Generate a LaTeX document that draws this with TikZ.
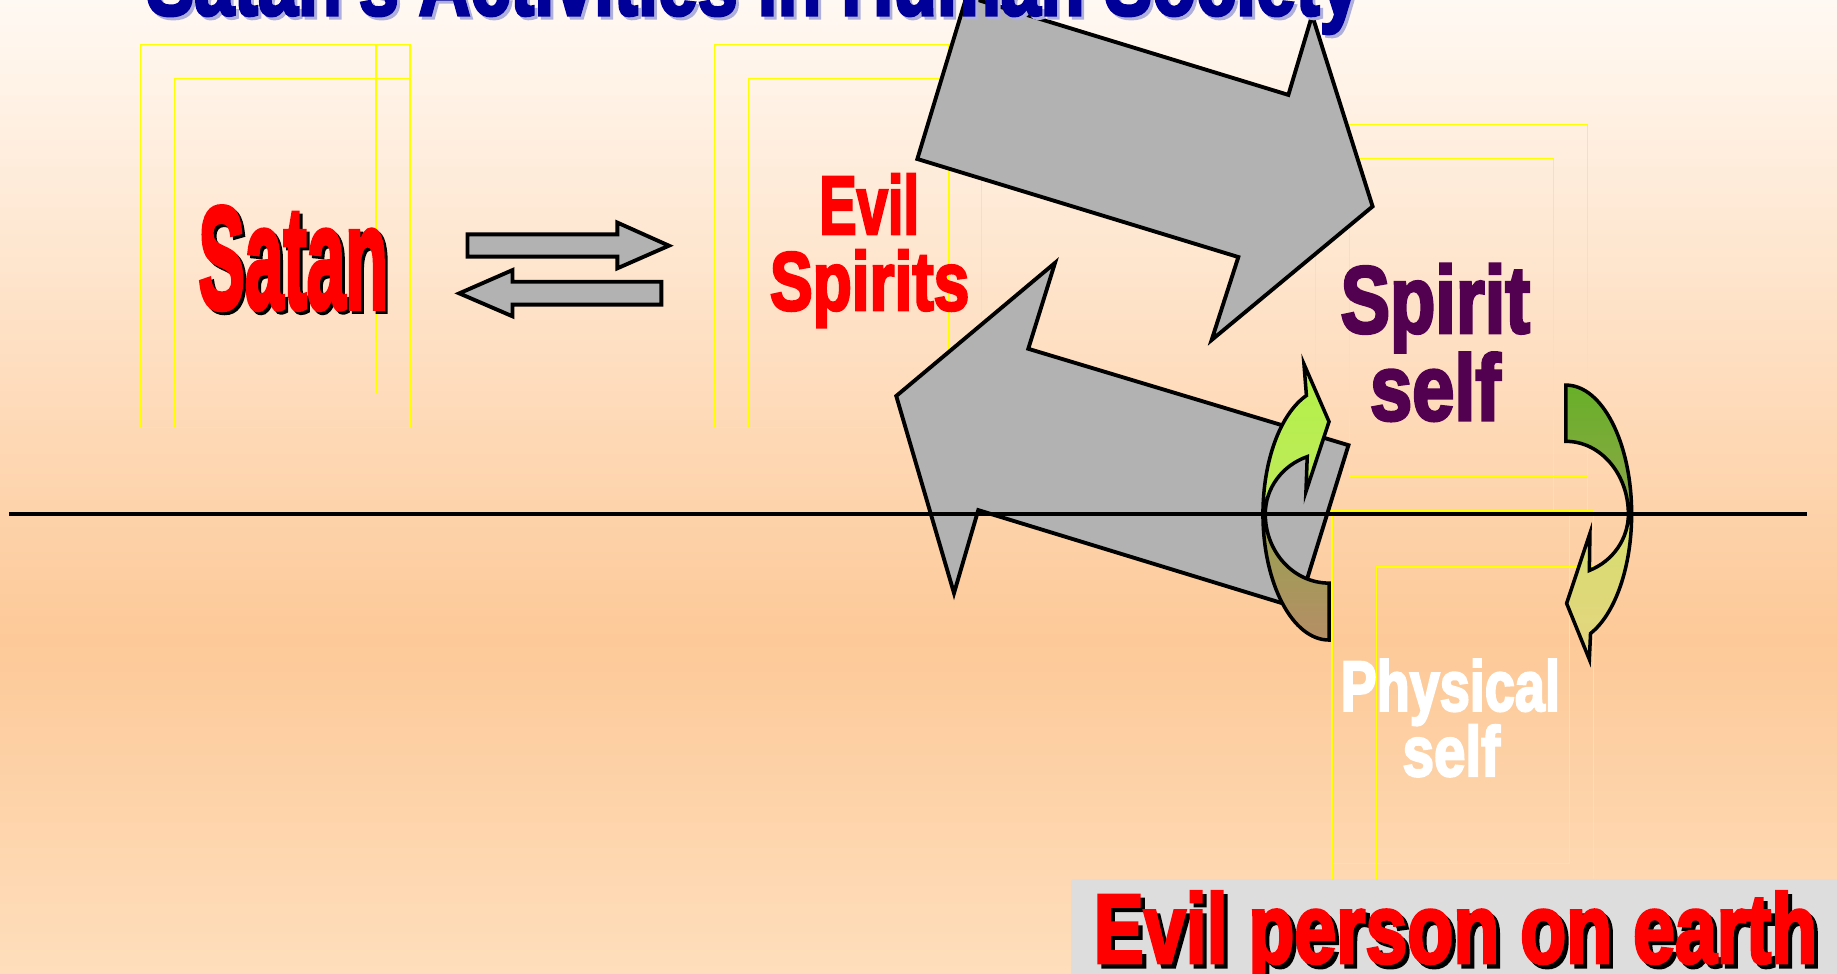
\documentclass[tikz,border=0pt]{standalone}
\usepackage{fontspec}
\usepackage{graphicx}
\newfontfamily\impactfont{Liberation Sans}[FakeBold=3.5]
\newcommand{\fitt}[3]{\resizebox{#1}{#2}{\impactfont\bfseries #3}}
\definecolor{bgtop}{RGB}{255,249,243}
\definecolor{bgmid}{RGB}{253,201,152}
\definecolor{bgbot}{RGB}{254,222,188}
\definecolor{arrowgray}{RGB}{178,178,178}
\definecolor{boxgray}{RGB}{221,221,221}
\definecolor{titleblue}{RGB}{0,0,153}
\definecolor{titleshadow}{RGB}{175,175,220}
\definecolor{spiritpurple}{RGB}{82,0,80}
\definecolor{ylw}{RGB}{255,255,0}
\definecolor{limetop}{RGB}{178,242,72}
\definecolor{limebot}{RGB}{192,232,92}
\definecolor{olivetop}{RGB}{150,162,80}
\definecolor{olivebot}{RGB}{182,142,102}
\definecolor{greentop}{RGB}{104,176,40}
\definecolor{greenbot}{RGB}{142,166,74}
\definecolor{ygtop}{RGB}{212,222,108}
\definecolor{ygbot}{RGB}{230,212,130}
\begin{document}
\begin{tikzpicture}[x=1pt,y=-1pt,
  ylines/.style={draw=ylw, line width=1pt},
  grayarrow/.style={draw=black, fill=arrowgray, line width=3.3pt, line join=miter},
  curvedarrow/.style={draw=black, line width=3pt, line join=miter},
  lbl/.style={anchor=base west, inner sep=0pt, outer sep=0pt}]
\useasboundingbox (0,0) rectangle (1568,831);
% background
\shade[top color=bgtop, bottom color=bgmid] (0,0) rectangle (1568,546);
\shade[top color=bgmid, bottom color=bgbot] (0,545) rectangle (1568,831);
% yellow frames
\draw[ylines] (120,38) rectangle (350,365);
\draw[ylines] (120,38) rectangle (321,336);
\draw[ylines] (149,67) rectangle (350,365);
\draw[ylines] (610,38) rectangle (838,365);
\draw[ylines] (610,38) rectangle (810,336);
\draw[ylines] (639,67) rectangle (838,365);
\draw[ylines] (1123,106) rectangle (1355,436);
\draw[ylines] (1152,106) rectangle (1355,407);
\draw[ylines] (1123,135) rectangle (1326,436);
\draw[ylines] (1137,436) rectangle (1360,785);
\draw[ylines] (1137,436) rectangle (1340,737);
\draw[ylines] (1175,484) rectangle (1360,785);
% labels
\node[lbl, text=black] (satanshadow) at (171.9,265.7) {\fitt{161.6pt}{86.8pt}{Satan}};
\node[lbl, text=red] (satan) at (169.4,263.2) {\fitt{161.6pt}{86.8pt}{Satan}};
\node[lbl, text=red] (evil) at (699.3,199.7) {\fitt{85.1pt}{51.2pt}{Evil}};
\node[lbl, text=red] (spirits) at (657.2,264.6) {\fitt{170.1pt}{51.2pt}{Spirits}};
\node[lbl, text=spiritpurple] (spirit) at (1144.3,283.9) {\fitt{161.6pt}{58.6pt}{Spirit}};
\node[lbl, text=spiritpurple] (self) at (1169.4,358.5) {\fitt{111.5pt}{57.5pt}{self}};
\node[lbl, text=white] (physical) at (1144.3,606.6) {\fitt{187.2pt}{43.8pt}{Physical}};
\node[lbl, text=white] (pself) at (1197.2,662.3) {\fitt{83.1pt}{43.5pt}{self}};
% small double arrows
\draw[grayarrow] (399,200) -- (527,200) -- (527,190) -- (571,209.7) -- (527,229) -- (527,219) -- (399,219) -- cycle;
\draw[grayarrow] (392,250.4) -- (437.5,230.5) -- (437.5,240.5) -- (564.5,240.5) -- (564.5,260) -- (437.5,260) -- (437.5,270) -- cycle;
% big gray arrows
\draw[grayarrow] (783,135.7) -- (825,-3) -- (1099.7,81) -- (1120,13) -- (1171.6,176.2) -- (1034.2,290.2) -- (1057,219.4) -- cycle;
\draw[grayarrow] (765,338) -- (900.5,224.4) -- (877.7,297.7) -- (1151,380) -- (1108,519) -- (835,435.4) -- (814.3,506.3) -- cycle;
% left curved arrow
\draw[curvedarrow, top color=olivetop, bottom color=olivebot]
  (1078,438.7) arc[start angle=180, end angle=90, x radius=56.4, y radius=107.6]
  -- (1134.4,497.7) arc[start angle=90, end angle=180, x radius=54.4, y radius=59] -- cycle;
\draw[curvedarrow, top color=limetop, bottom color=limebot]
  (1078,438.7) arc[start angle=180, end angle=250, x radius=56.4, y radius=107.6]
  -- (1113,310.7) -- (1134.4,359.9) -- (1114.7,419.7) -- (1115.8,389.8)
  arc[start angle=250, end angle=180, x radius=54.4, y radius=52] -- cycle;
% right curved arrow
\draw[curvedarrow, top color=greentop, bottom color=greenbot]
  (1336.6,328.7) arc[start angle=270, end angle=360, x radius=56.1, y radius=110]
  -- (1389.9,438.7) arc[start angle=360, end angle=270, x radius=53.3, y radius=62] -- cycle;
\draw[curvedarrow, top color=ygtop, bottom color=ygbot]
  (1392.7,438.7) arc[start angle=0, end angle=68, x radius=56.1, y radius=110]
  -- (1356.6,562.8) -- (1337.2,515) -- (1357.1,455.2) -- (1356.6,486.9)
  arc[start angle=68, end angle=0, x radius=53.3, y radius=52] -- cycle;
% horizon line
\coordinate (lineL) at (8,438.7);
\coordinate (lineR) at (1542,438.7);
\draw[black, line width=3pt] (lineL) -- (lineR);
% bottom caption
\fill[boxgray] (914,750) rectangle (1568,831);
\node[lbl, text=black] (captionshadow) at (937,825.2) {\fitt{617.5pt}{60.6pt}{Evil person on earth}};
\node[lbl, text=red] (caption) at (933.5,821.7) {\fitt{617.5pt}{60.6pt}{Evil person on earth}};
% title
\node[lbl, text=titleshadow] (titleshadow) at (127.5,15.3) {\fitt{1035pt}{56pt}{Satan's Activities in Human Society}};
\node[lbl, text=titleblue] (title) at (125,12.8) {\fitt{1035pt}{56pt}{Satan's Activities in Human Society}};
\end{tikzpicture}
\end{document}
